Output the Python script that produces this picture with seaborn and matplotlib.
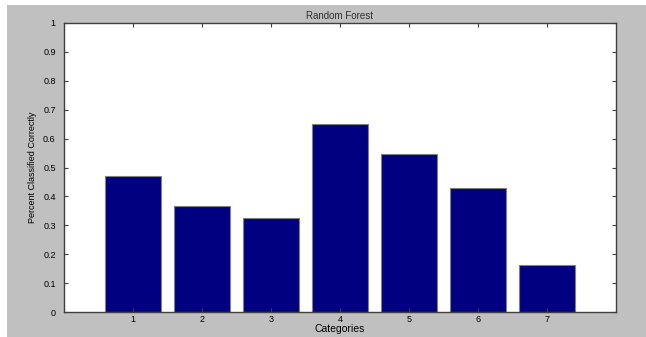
import matplotlib
matplotlib.use('Agg')
import matplotlib.pyplot as plt
import seaborn as sns
import pandas as pd
from matplotlib.patches import Rectangle

categories = ['1', '2', '3', '4', '5', '6', '7']
accuracy = [0.47, 0.367, 0.325, 0.649, 0.548, 0.43, 0.163]
yticks = [0, 0.1, 0.2, 0.3, 0.4, 0.5, 0.6, 0.7, 0.8, 0.9, 1]
ytick_labels = ['0', '0.1', '0.2', '0.3', '0.4', '0.5', '0.6', '0.7', '0.8', '0.9', '1']

df = pd.DataFrame({'Categories': categories, 'Percent': accuracy})

plt.rcParams['font.family'] = ['Liberation Sans', 'DejaVu Sans']
fig = plt.figure(figsize=(6.46, 3.37), dpi=100, facecolor='white')
# grey matlab-style window background
fig.patches.append(Rectangle((7 / 646, 0), 1, (337 - 5) / 337, transform=fig.transFigure,
                             facecolor='#c0c0c0', edgecolor='none', zorder=-10))
ax = fig.add_axes([64 / 646, 25 / 337, 552 / 646, 289 / 337])

sns.barplot(data=df, x='Categories', y='Percent', color='#000080', width=0.8,
            saturation=1, edgecolor='#808080', linewidth=0.8, ax=ax)

ax.set_xlim(-1, 7)
ax.set_ylim(0, 1)
ax.set_yticks(yticks)
ax.set_yticklabels(ytick_labels)
ax.tick_params(direction='in', length=3, width=0.8, labelsize=6.5, color='#404040',
               top=True, right=True)
ax.tick_params(axis='y', pad=6)
ax.tick_params(axis='x', pad=2)
ax.set_title('Random Forest', fontsize=7, pad=3, color='#303030')
ax.set_xlabel('Categories', fontsize=7.5, labelpad=0)
ax.set_ylabel('Percent Classified Correctly', fontsize=6.5, labelpad=4, fontstretch='condensed')
for s in ax.spines.values():
    s.set_color('#404040')
    s.set_linewidth(1)

fig.savefig('out.png', dpi=100, facecolor=fig.get_facecolor())
